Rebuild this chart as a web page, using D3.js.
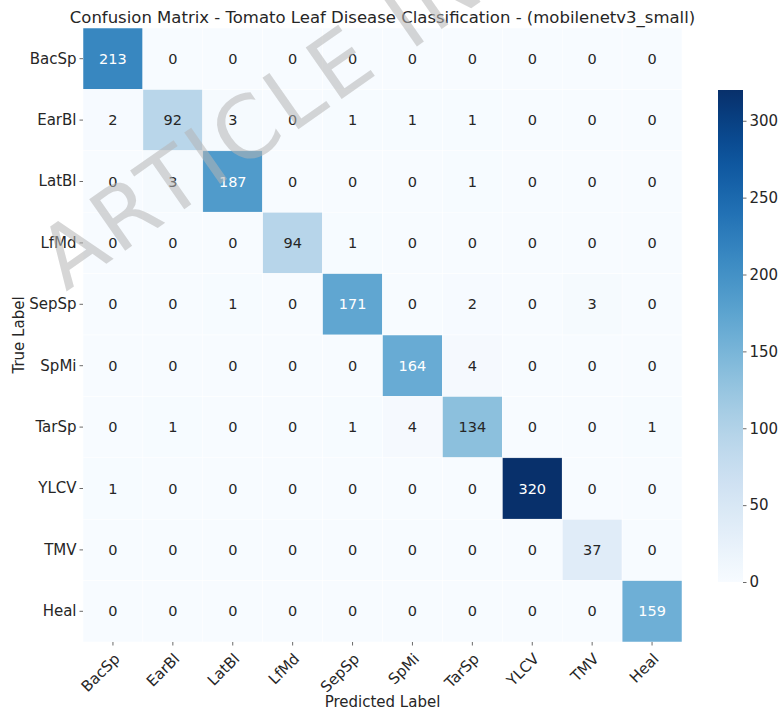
<!DOCTYPE html>
<html>
<head>
<meta charset="utf-8">
<script src="https://cdn.jsdelivr.net/npm/d3@7"></script>
<style>
  body { margin: 0; background: #fff; }
  text { font-family: "DejaVu Sans", sans-serif; }
</style>
</head>
<body>
<svg id="chart"></svg>
<script>
"use strict";

// DATA
var classes = ["BacSp", "EarBl", "LatBl", "LfMd", "SepSp", "SpMi", "TarSp", "YLCV", "TMV", "Heal"];
var counts = [
  [213, 0, 0, 0, 0, 0, 0, 0, 0, 0],
  [2, 92, 3, 0, 1, 1, 1, 0, 0, 0],
  [0, 3, 187, 0, 0, 0, 1, 0, 0, 0],
  [0, 0, 0, 94, 1, 0, 0, 0, 0, 0],
  [0, 0, 1, 0, 171, 0, 2, 0, 3, 0],
  [0, 0, 0, 0, 0, 164, 4, 0, 0, 0],
  [0, 1, 0, 0, 1, 4, 134, 0, 0, 1],
  [1, 0, 0, 0, 0, 0, 0, 320, 0, 0],
  [0, 0, 0, 0, 0, 0, 0, 0, 37, 0],
  [0, 0, 0, 0, 0, 0, 0, 0, 0, 159]
];
var colorbarTicks = [0, 50, 100, 150, 200, 250, 300];
var title = "Confusion Matrix - Tomato Leaf Disease Classification - (mobilenetv3_small)";

var width = 778, height = 710;
var hm = { left: 83, top: 28, right: 682, bottom: 642 };
var cb = { left: 718, right: 743, top: 90, bottom: 582 };

var svg = d3.select("#chart").attr("width", width).attr("height", height);

var cells = [];
counts.forEach(function (row, i) {
  row.forEach(function (v, j) {
    cells.push({ t: classes[i], p: classes[j], v: v });
  });
});

var vmax = d3.max(cells, function (d) { return d.v; });
var color = d3.scaleSequential(d3.interpolateBlues).domain([0, vmax]);

var x = d3.scaleBand().domain(classes).range([hm.left, hm.right]);
var y = d3.scaleBand().domain(classes).range([hm.top, hm.bottom]);

// relative luminance (same rule seaborn uses) to pick the label colour
function lum(c) {
  var rgb = d3.rgb(c);
  var f = function (u) {
    u = u / 255;
    return u <= 0.03928 ? u / 12.92 : Math.pow((u + 0.055) / 1.055, 2.4);
  };
  return 0.2126 * f(rgb.r) + 0.7152 * f(rgb.g) + 0.0722 * f(rgb.b);
}

// CELLS
svg.append("g").selectAll("rect")
  .data(cells).enter().append("rect")
  .attr("x", function (d) { return x(d.p); })
  .attr("y", function (d) { return y(d.t); })
  .attr("width", x.bandwidth())
  .attr("height", y.bandwidth())
  .attr("fill", function (d) { return color(d.v); })
  .attr("stroke", "#fff")
  .attr("stroke-width", 0.5);

svg.append("g").selectAll("text")
  .data(cells).enter().append("text")
  .attr("x", function (d) { return x(d.p) + x.bandwidth() / 2; })
  .attr("y", function (d) { return y(d.t) + y.bandwidth() / 2; })
  .attr("text-anchor", "middle")
  .attr("dominant-baseline", "central")
  .attr("font-size", 14.5)
  .attr("fill", function (d) { return lum(color(d.v)) > 0.408 ? "#262626" : "#ffffff"; })
  .text(function (d) { return d.v; });

// AXES
var yAxis = svg.append("g")
  .attr("transform", "translate(" + hm.left + ",0)")
  .call(d3.axisLeft(y).tickSize(3.5).tickPadding(3));
var xAxis = svg.append("g")
  .attr("transform", "translate(0," + hm.bottom + ")")
  .call(d3.axisBottom(x).tickSize(3.5).tickPadding(3));
[yAxis, xAxis].forEach(function (a) {
  a.select(".domain").remove();
  a.selectAll("line").attr("stroke", "#444").attr("stroke-width", 0.8);
  a.selectAll("text").attr("font-size", 15).attr("fill", "#262626")
    .style("font-family", "DejaVu Sans, sans-serif");
});
xAxis.selectAll(".tick text")
  .attr("text-anchor", "end")
  .attr("y", 0)
  .attr("dy", "0.35em")
  .attr("transform", "translate(4,14) rotate(-45)");

// COLORBAR
var grad = svg.append("defs").append("linearGradient").attr("id", "cbGrad")
  .attr("x1", 0).attr("y1", 1).attr("x2", 0).attr("y2", 0);
d3.range(0, 1.0001, 0.05).forEach(function (t) {
  grad.append("stop").attr("offset", t).attr("stop-color", d3.interpolateBlues(t));
});
svg.append("rect")
  .attr("x", cb.left).attr("y", cb.top)
  .attr("width", cb.right - cb.left).attr("height", cb.bottom - cb.top)
  .attr("fill", "url(#cbGrad)");
var cbScale = d3.scaleLinear().domain([0, vmax]).range([cb.bottom, cb.top]);
var cbAxis = svg.append("g")
  .attr("transform", "translate(" + cb.right + ",0)")
  .call(d3.axisRight(cbScale).tickValues(colorbarTicks).tickSize(3.5).tickPadding(3));
cbAxis.select(".domain").remove();
cbAxis.selectAll("line").attr("stroke", "#444").attr("stroke-width", 0.8);
cbAxis.selectAll("text").attr("font-size", 15).attr("fill", "#262626")
  .style("font-family", "DejaVu Sans, sans-serif");

// LABELS
svg.append("text")
  .attr("x", (hm.left + hm.right) / 2).attr("y", 23)
  .attr("text-anchor", "middle").attr("font-size", 16.5).attr("fill", "#262626")
  .text(title);
svg.append("text")
  .attr("x", (hm.left + hm.right) / 2).attr("y", 707)
  .attr("text-anchor", "middle").attr("font-size", 15).attr("fill", "#262626")
  .text("Predicted Label");
svg.append("text")
  .attr("transform", "translate(24," + (hm.top + hm.bottom) / 2 + ") rotate(-90)")
  .attr("text-anchor", "middle").attr("font-size", 15).attr("fill", "#262626")
  .text("True Label");

// WATERMARK
svg.append("text")
  .attr("transform", "translate(66,292) rotate(-35)")
  .attr("font-size", 86).attr("letter-spacing", 5)
  .attr("fill", "#b4b4b4").attr("fill-opacity", 0.55)
  .text("ARTICLE IN PRESS");
</script>
</body>
</html>
